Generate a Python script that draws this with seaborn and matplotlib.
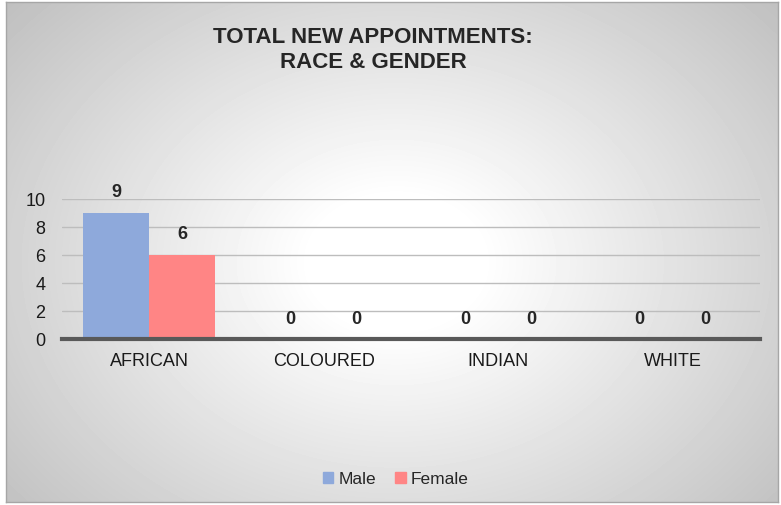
import numpy as np
import pandas as pd
import matplotlib.pyplot as plt
import seaborn as sns

# Data
races = ['AFRICAN', 'COLOURED', 'INDIAN', 'WHITE']
male = [9, 0, 0, 0]
female = [6, 0, 0, 0]

df = pd.DataFrame({
    'Race': races * 2,
    'Gender': ['Male'] * len(races) + ['Female'] * len(races),
    'Count': male + female,
})

sns.set_style("white")
plt.rcParams['font.family'] = ['Liberation Sans', 'DejaVu Sans']

fig = plt.figure(figsize=(7.81, 5.06), dpi=100)

# background panel with radial gradient
bg = fig.add_axes([6 / 781, 3 / 506, 772 / 781, 500 / 506], zorder=-1)
yy, xx = np.mgrid[0:500, 0:772]
r = np.sqrt(((xx - 390) / 430) ** 2 + ((yy - 260) / 330) ** 2)
shade = 1 - 0.2 * np.clip(r - 0.2, 0, 1) / 0.8
bg.imshow(shade, cmap='gray', vmin=0, vmax=1, aspect='auto')
bg.set_xticks([])
bg.set_yticks([])
for s in bg.spines.values():
    s.set_color('#A6A6A6')
    s.set_linewidth(1)

ax = fig.add_axes([62 / 781, 1 - 340 / 506, 698 / 781, 140 / 506])
ax.patch.set_alpha(0)
sns.barplot(data=df, x='Race', y='Count', hue='Gender',
            palette=['#8EA9DB', '#FF8585'], width=0.756, saturation=1,
            linewidth=0, ax=ax, legend=False)

for c in ax.containers:
    ax.bar_label(c, fontsize=13, fontweight='bold', padding=9)

ax.set_ylim(0, 10)
ax.set_xlim(-0.5, 3.5)
ax.set_yticks([0, 2, 4, 6, 8, 10])
ax.yaxis.grid(True, color='#BDBDBD', linewidth=1)
ax.set_axisbelow(True)
ax.set_xlabel('')
ax.set_ylabel('')
ax.tick_params(axis='both', length=0, labelsize=13, colors='#1a1a1a')
ax.tick_params(axis='x', pad=9)
ax.tick_params(axis='y', pad=12)
for s in ['top', 'right', 'left']:
    ax.spines[s].set_visible(False)
ax.spines['bottom'].set_color('#595959')
ax.spines['bottom'].set_linewidth(3)

fig.text(373 / 781, 1 - 50 / 506, 'TOTAL NEW APPOINTMENTS:\nRACE & GENDER',
         ha='center', va='center', fontsize=16, fontweight='bold',
         linespacing=1.25)

handles = [plt.Rectangle((0, 0), 1, 1, color='#8EA9DB'),
           plt.Rectangle((0, 0), 1, 1, color='#FF8585')]
fig.legend(handles, ['Male', 'Female'], loc='center',
           bbox_to_anchor=(396 / 781, 1 - 480 / 506), ncol=2, frameon=False,
           fontsize=12.5, handlelength=0.6, handleheight=0.6,
           handletextpad=0.3, columnspacing=1.1)

fig.savefig('out.png', dpi=100)
